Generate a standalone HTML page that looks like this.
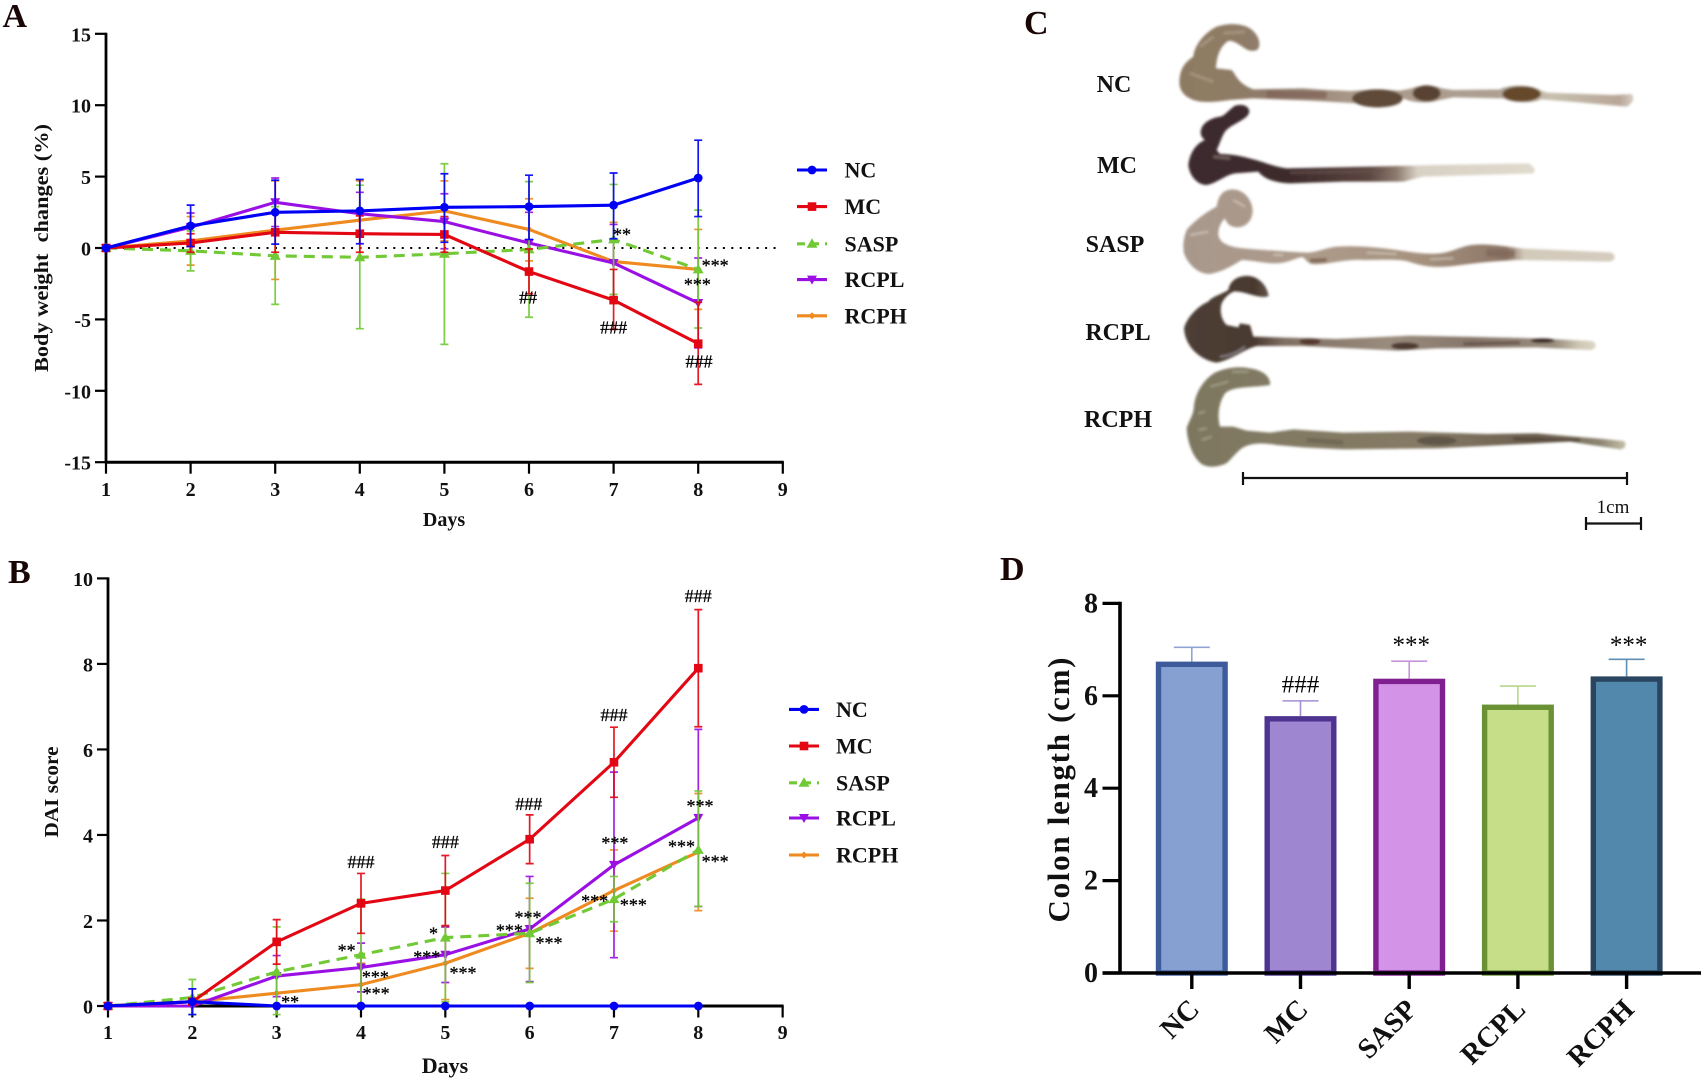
<!DOCTYPE html>
<html lang="en">
<head>
<meta charset="utf-8">
<title>Body weight, DAI score and colon length</title>
<style>
html,body{margin:0;padding:0;background:#fff;}
svg{display:block;font-family:"Liberation Serif",serif;}
#panelA,#panelB,#panelD{filter:blur(.3px);}
</style>
</head>
<body>
<svg id="figure" xmlns="http://www.w3.org/2000/svg" width="1705" height="1080" viewBox="0 0 1705 1080">
  <defs>
    <filter id="soft" x="-5%" y="-20%" width="110%" height="140%"><feGaussianBlur stdDeviation="4.2"/></filter>
    <linearGradient id="gNC" gradientUnits="userSpaceOnUse" x1="28" y1="0" x2="1390" y2="0">
      <stop offset="0" stop-color="#8d7a62"/><stop offset=".13" stop-color="#8f7c66"/><stop offset=".2" stop-color="#8f7a6c"/><stop offset=".38" stop-color="#a89888"/><stop offset=".7" stop-color="#ad9f92"/><stop offset=".82" stop-color="#c8bfae"/><stop offset=".97" stop-color="#b8a698"/><stop offset="1" stop-color="#d8cfc6"/>
    </linearGradient>
    <linearGradient id="gMC" gradientUnits="userSpaceOnUse" x1="55" y1="0" x2="1095" y2="0">
      <stop offset="0" stop-color="#3c2c2e"/><stop offset=".3" stop-color="#3e2a2c"/><stop offset=".52" stop-color="#5b4640"/><stop offset=".6" stop-color="#8c7a6e"/><stop offset=".66" stop-color="#d8d0c4"/><stop offset="1" stop-color="#e0dacd"/>
    </linearGradient>
    <linearGradient id="gSASP" gradientUnits="userSpaceOnUse" x1="40" y1="0" x2="1335" y2="0">
      <stop offset="0" stop-color="#a8988c"/><stop offset=".3" stop-color="#ad9b8a"/><stop offset=".55" stop-color="#a5917e"/><stop offset=".75" stop-color="#8c7566"/><stop offset=".79" stop-color="#d2c9b9"/><stop offset="1" stop-color="#d5ccbf"/>
    </linearGradient>
    <linearGradient id="gRCPL" gradientUnits="userSpaceOnUse" x1="45" y1="0" x2="1278" y2="0">
      <stop offset="0" stop-color="#4d3f36"/><stop offset=".17" stop-color="#49392f"/><stop offset=".24" stop-color="#7f6e62"/><stop offset=".5" stop-color="#9a8c7d"/><stop offset=".7" stop-color="#85756a"/><stop offset=".9" stop-color="#9a8e7e"/><stop offset=".96" stop-color="#d0c8b5"/><stop offset="1" stop-color="#dcd6c5"/>
    </linearGradient>
    <linearGradient id="gRCPH" gradientUnits="userSpaceOnUse" x1="50" y1="0" x2="1368" y2="0">
      <stop offset="0" stop-color="#7e775f"/><stop offset=".2" stop-color="#827a64"/><stop offset=".55" stop-color="#857a65"/><stop offset=".8" stop-color="#6a5d4d"/><stop offset=".94" stop-color="#8c8470"/><stop offset="1" stop-color="#c6bfa8"/>
    </linearGradient>
  </defs>

  <text x="2.5" y="27" font-size="34" font-weight="bold" fill="#1a0505">A</text>
  <text x="8" y="583" font-size="34" font-weight="bold" fill="#1a0505">B</text>
  <text x="1024" y="34" font-size="34" font-weight="bold" fill="#1a0505">C</text>
  <text x="1000" y="580" font-size="34" font-weight="bold" fill="#1a0505">D</text>

  <g id="panelA"></g>
  <g id="panelB"></g>
  <g id="panelD"></g>

  <g>
    <g transform="translate(1170,10) scale(.33333)">
      <g filter="url(#soft)">
        <path fill="url(#gNC)" d="M268 100 C268 118 262 124 240 122 C222 118 205 96 178 92 C158 100 140 130 138 175 L185 180 C198 195 205 222 250 238 L400 235 L470 240 L540 243 L620 238 L690 242 L725 235 C745 225 795 225 815 235 L850 240 L990 238 C1010 225 1080 222 1110 240 L1130 248 L1330 255 L1385 252 C1394 262 1392 278 1370 290 L1200 275 L1115 268 C1090 280 1030 280 1000 265 L850 262 L810 270 C780 280 730 280 700 265 L690 280 C660 296 590 296 560 280 L420 272 L250 265 L180 270 C140 276 100 280 70 270 C40 258 28 240 28 215 C30 180 40 160 70 140 C72 110 100 70 140 50 C175 38 215 40 240 55 C258 68 268 85 268 100 Z"/>
        <ellipse cx="622" cy="265" rx="76" ry="27" fill="#5e4a38"/>
        <ellipse cx="770" cy="250" rx="42" ry="24" fill="#5a4330"/>
        <ellipse cx="1055" cy="252" rx="58" ry="23" fill="#654a2c"/>
        <path d="M290 252 L470 255" stroke="#7d6156" stroke-width="22" fill="none" stroke-opacity=".7"/>
        <path d="M60 190 L130 215 M90 110 L130 80 M160 70 L225 65" stroke="#b5a48e" stroke-width="9" fill="none" stroke-opacity=".6"/>
      </g>
      <g filter="url(#soft)">
        <path fill="url(#gMC)" d="M238 305 C238 288 218 280 195 287 C175 300 165 318 150 320 C120 325 95 340 92 365 C92 380 98 385 105 390 C80 400 60 425 55 465 C58 495 80 525 110 525 C140 520 165 495 195 490 L265 485 C280 505 310 518 360 520 L520 515 L700 515 L760 500 L1090 490 C1100 480 1090 468 1075 460 L800 465 L600 470 L350 475 C310 470 280 455 250 448 C220 440 190 432 150 432 L140 420 C150 400 155 380 165 365 C185 340 235 330 238 305 Z"/>
        <path d="M130 440 L180 445" stroke="#8a7a70" stroke-width="8" fill="none" stroke-opacity=".7"/>
        <path d="M360 488 L640 484" stroke="#6a564e" stroke-width="7" fill="none" stroke-opacity=".7"/>
      </g>
    </g>
    <g transform="translate(1170,240) scale(.33333)">
      <g filter="url(#soft)">
        <path fill="url(#gSASP)" d="M248 -90 C245 -125 220 -150 190 -152 C160 -152 145 -135 140 -100 C110 -85 70 -55 50 -30 C40 -5 38 20 42 40 C55 75 85 102 120 102 C160 95 190 75 215 60 C260 62 300 75 340 68 C370 62 385 50 400 52 C410 62 415 74 440 73 C480 72 520 58 580 60 C640 60 690 56 720 66 C760 80 800 84 850 78 C900 72 930 66 1040 60 L1320 65 C1340 58 1338 42 1320 37 L1050 25 C1000 18 950 10 905 15 C870 20 850 35 810 40 C770 44 720 36 680 30 C620 22 560 16 500 20 C470 22 440 38 410 38 C370 36 280 30 220 25 C175 20 150 10 145 -15 C145 -35 150 -50 165 -65 C170 -50 180 -38 205 -38 C230 -40 248 -60 248 -90 Z"/>
        <path d="M310 45 L340 45 M590 38 L680 42 M780 58 L850 55 M60 -15 L115 -25 M190 -120 L225 -100" stroke="#e6e0d6" stroke-width="5" fill="none" stroke-opacity=".6"/>
        <path d="M420 62 L470 60" stroke="#7a5c4a" stroke-width="12" fill="none" stroke-opacity=".8"/>
        <path d="M950 38 L1035 42" stroke="#7e6558" stroke-width="22" fill="none" stroke-opacity=".7"/>
      </g>
      <g filter="url(#soft)">
        <path fill="url(#gRCPL)" d="M296 168 C292 140 270 112 238 108 C205 106 180 120 175 150 C150 165 125 170 115 185 C80 200 50 235 42 265 C45 320 90 360 140 368 C190 358 225 325 262 318 L400 318 L680 332 L800 325 L1100 322 L1260 330 C1282 328 1282 308 1265 303 L1100 295 L720 287 L500 297 L250 290 L240 255 L210 250 L205 262 L170 255 C150 235 150 205 155 190 C165 170 180 160 190 155 C220 150 270 180 296 168 Z"/>
        <ellipse cx="420" cy="305" rx="32" ry="10" fill="#55392f"/>
        <ellipse cx="705" cy="318" rx="42" ry="11" fill="#4e3a33"/>
        <path d="M880 312 L1050 308" stroke="#5f4a44" stroke-width="9" fill="none" stroke-opacity=".8"/>
        <ellipse cx="1118" cy="302" rx="36" ry="7" fill="#3e2a25"/>
        <path d="M150 350 C180 348 205 335 225 320" stroke="#a8a8b0" stroke-width="5" fill="none" stroke-opacity=".7"/>
      </g>
      <g filter="url(#soft)">
        <path fill="url(#gRCPH)" d="M300 425 C295 405 275 390 240 385 C205 378 170 382 135 398 C100 420 78 455 72 495 C72 525 55 545 50 565 C52 610 72 660 100 675 C125 686 155 678 172 668 C190 650 205 630 220 622 C245 608 280 608 320 615 L400 622 L520 628 L800 625 L1000 615 L1200 605 L1350 628 C1370 628 1370 605 1360 603 L1300 597 L1100 580 L950 582 L720 575 L520 578 L370 568 L300 578 L230 572 L190 560 L150 560 C142 530 145 490 165 460 C190 438 240 444 300 435 Z"/>
        <path d="M120 440 L175 425 M185 395 L235 395 M85 520 L105 515 M85 570 L110 565 M95 600 L125 590" stroke="#b8b5a2" stroke-width="6" fill="none" stroke-opacity=".6"/>
        <ellipse cx="800" cy="602" rx="60" ry="14" fill="#605648"/>
        <path d="M1030 597 L1230 600" stroke="#4f4036" stroke-width="9" fill="none" stroke-opacity=".8"/>
        <path d="M410 600 L520 608" stroke="#6a604e" stroke-width="14" fill="none" stroke-opacity=".7"/>
      </g>
    </g>
    <text x="1114" y="92" text-anchor="middle" font-size="24" font-weight="bold" fill="#111">NC</text>
    <text x="1117" y="173" text-anchor="middle" font-size="24" font-weight="bold" fill="#111">MC</text>
    <text x="1115" y="252" text-anchor="middle" font-size="24" font-weight="bold" fill="#111">SASP</text>
    <text x="1118" y="340" text-anchor="middle" font-size="24" font-weight="bold" fill="#111">RCPL</text>
    <text x="1118" y="427" text-anchor="middle" font-size="24" font-weight="bold" fill="#111">RCPH</text>
    <path d="M1243 478H1627M1243 472V485M1627 472V485" stroke="#111" stroke-width="2.2" fill="none"/>
    <path d="M1586 523.5H1641M1586 517V530M1641 517V530" stroke="#111" stroke-width="2.2" fill="none"/>
    <text x="1613" y="513" text-anchor="middle" font-size="19" fill="#111">1cm</text>
  </g>
</svg>

<script>
// Shared categories and legend
const dayValues = [1, 2, 3, 4, 5, 6, 7, 8];
const dayTicks = [1, 2, 3, 4, 5, 6, 7, 8, 9];
const groupNames = ['NC', 'MC', 'SASP', 'RCPL', 'RCPH'];

// Panel A: body weight changes (%)
const weightTicks = [15, 10, 5, 0, -5, -10, -15];
const weightNC = [0, 1.55, 2.5, 2.6, 2.85, 2.9, 3.0, 4.9];
const weightNCHigh = [0, 3.0, 4.75, 4.8, 5.2, 5.1, 5.25, 7.55];
const weightNCLow = [0, 0.1, 0.27, 0.3, 0.4, 0.6, 0.65, 2.2];
const weightMC = [0, 0.35, 1.1, 1.0, 0.95, -1.65, -3.65, -6.7];
const weightMCHigh = [0, 1.0, 2.5, 2.25, 2.2, -0.07, -1.5, -3.8];
const weightMCLow = [0, -0.3, -0.3, -0.3, -0.3, -3.2, -5.7, -9.55];
const weightSASP = [0, -0.2, -0.55, -0.65, -0.4, -0.1, 0.6, -1.5];
const weightSASPHigh = [0, 1.2, 2.9, 4.4, 5.9, 4.65, 4.45, 2.65];
const weightSASPLow = [0, -1.6, -3.95, -5.65, -6.75, -4.85, -3.25, -5.6];
const weightRCPL = [0, 1.45, 3.2, 2.4, 1.85, 0.35, -1.05, -3.85];
const weightRCPLHigh = [0, 2.45, 4.9, 3.9, 3.8, 2.5, 1.65, -0.7];
const weightRCPLLow = [0, 0.45, 1.5, 0.9, -0.05, -1.8, -3.7, -7.0];
const weightRCPH = [0, 0.5, 1.25, 1.95, 2.6, 1.3, -0.95, -1.5];
const weightRCPHHigh = [0, 2.2, 4.7, 4.7, 4.7, 3.45, 1.8, 1.3];
const weightRCPHLow = [0, -1.2, -2.2, -0.8, 0.5, -0.9, -3.6, -4.3];
const weightNoteLabels = ['**', '***', '***', '##', '###', '###'];
const weightNoteDays = [7.10, 8.20, 7.99, 5.99, 7.0, 8.01];
const weightNoteValues = [1.14, -1.0, -2.36, -3.48, -5.55, -7.96];

// Panel B: DAI score
const daiTicks = [10, 8, 6, 4, 2, 0];
const daiNC = [0, 0.1, 0, 0, 0, 0, 0, 0];
const daiNCHigh = [0, 0.4, 0, 0, 0, 0, 0, 0];
const daiNCLow = [0, -0.2, 0, 0, 0, 0, 0, 0];
const daiMC = [0, 0.1, 1.5, 2.4, 2.7, 3.9, 5.7, 7.9];
const daiMCHigh = [0, 0.1, 2.02, 3.1, 3.52, 4.47, 6.52, 9.27];
const daiMCLow = [0, 0.1, 0.98, 1.7, 1.88, 3.33, 4.88, 6.53];
const daiSASP = [0, 0.2, 0.8, 1.2, 1.6, 1.7, 2.5, 3.65];
const daiSASPHigh = [0, 0.62, 1.85, 2.5, 3.1, 2.87, 3.03, 5.03];
const daiSASPLow = [0, -0.2, -0.2, 0, 0.1, 0.55, 1.97, 2.33];
const daiRCPL = [0, 0, 0.7, 0.9, 1.2, 1.8, 3.3, 4.4];
const daiRCPLHigh = [0, 0, 1.18, 1.47, 1.85, 3.03, 5.47, 6.47];
const daiRCPLLow = [0, 0, 0.22, 0.33, 0.55, 0.57, 1.13, 2.33];
const daiRCPH = [0, 0.1, 0.3, 0.5, 1.0, 1.7, 2.7, 3.6];
const daiRCPHHigh = [0, 0.1, 0.3, 1.0, 1.85, 2.52, 3.65, 4.97];
const daiRCPHLow = [0, 0.1, 0.3, 0, 0.15, 0.88, 1.75, 2.23];
const daiNoteLabels = ['###', '###', '###', '###', '###', '**', '**', '***', '***', '*', '***', '***', '***', '***', '***', '***', '***', '***', '***', '***', '***'];
const daiNoteDays = [4.0, 5.0, 5.99, 7.0, 8.0, 3.16, 3.83, 4.17, 4.18, 4.86, 4.78, 5.21, 5.98, 5.76, 6.23, 7.01, 6.77, 7.23, 8.02, 7.80, 8.20];
const daiNoteValues = [3.37, 3.84, 4.72, 6.81, 9.59, 0.16, 1.37, 0.75, 0.36, 1.76, 1.22, 0.84, 2.14, 1.83, 1.54, 3.88, 2.52, 2.43, 4.75, 3.80, 3.45];

// Panel D: colon length (cm)
const lengthTicks = [8, 6, 4, 2, 0];
const lengthMeans = [6.74, 5.56, 6.37, 5.81, 6.42];
const lengthErrorTops = [7.05, 5.89, 6.75, 6.21, 6.79];
const lengthNoteLabels = ['###', '***', '***'];
const lengthNoteGroups = [1, 2, 4];
const lengthNoteValues = [6.25, 7.19, 7.19];

const SVGNS = 'http://www.w3.org/2000/svg';

function mk(parent, tag, name, attrs, txt) {
  const el = document.createElementNS(SVGNS, tag);
  
  
  for (const k in attrs) el.setAttribute(k, attrs[k]);
  if (txt !== undefined) el.textContent = txt;
  parent.appendChild(el);
  return el;
}

const seriesStyle = {
  NC: {color: '#0000f5', marker: 'circle', dash: ''},
  MC: {color: '#e30613', marker: 'square', dash: ''},
  SASP: {color: '#72c936', marker: 'up', dash: '11 7'},
  RCPL: {color: '#9a10e4', marker: 'down', dash: ''},
  RCPH: {color: '#ee8a1f', marker: 'diamond', dash: ''}
};

function marker(parent, kind, x, y, color, name) {
  if (kind === 'circle') return mk(parent, 'circle', name, {cx: x, cy: y, r: 4.4, fill: color});
  if (kind === 'square') return mk(parent, 'rect', name, {x: x - 4.3, y: y - 4.3, width: 8.6, height: 8.6, fill: color});
  if (kind === 'up') return mk(parent, 'path', name, {d: `M${x} ${y - 5.5}L${x + 5.5} ${y + 4}L${x - 5.5} ${y + 4}Z`, fill: color});
  if (kind === 'down') return mk(parent, 'path', name, {d: `M${x} ${y + 5}L${x + 5} ${y - 4}L${x - 5} ${y - 4}Z`, fill: color});
  return mk(parent, 'path', name, {d: `M${x} ${y - 3.5}L${x + 3.5} ${y}L${x} ${y + 3.5}L${x - 3.5} ${y}Z`, fill: color});
}

function lineChart(cfg) {
  const g = document.getElementById(cfg.id);
  const xS = d => cfg.x0 + (d - 1) * cfg.dx;
  const yS = v => cfg.y0 - v * cfg.dy;
  const bottom = yS(cfg.yMin), top = yS(cfg.yMax);

  mk(g, 'line', 'y-axis', {x1: xS(1), x2: xS(1), y1: top - 1, y2: bottom + 1, stroke: '#000', 'stroke-width': 2.8});
  mk(g, 'line', 'x-axis', {x1: xS(1) - 1, x2: xS(9) + 1, y1: bottom, y2: bottom, stroke: '#000', 'stroke-width': 3});
  cfg.yTicks.forEach(t => {
    mk(g, 'line', 'y-tick', {x1: xS(1) - 11, x2: xS(1), y1: yS(t), y2: yS(t), stroke: '#000', 'stroke-width': 2.2});
    mk(g, 'text', 'y-tick-label', {x: xS(1) - 15, y: yS(t) + 7.5, 'text-anchor': 'end', 'font-size': 20, 'font-weight': 'bold', fill: '#111'}, String(t));
  });
  dayTicks.forEach(t => {
    mk(g, 'line', 'x-tick', {x1: xS(t), x2: xS(t), y1: bottom, y2: bottom + 11.5, stroke: '#000', 'stroke-width': 2.2});
    mk(g, 'text', 'x-tick-label', {x: xS(t), y: bottom + cfg.tickGap, 'text-anchor': 'middle', 'font-size': 20, 'font-weight': 'bold', fill: '#111'}, String(t));
  });
  mk(g, 'text', 'x-axis-title', {x: cfg.xTitleX, y: cfg.xTitleY, 'text-anchor': 'middle', 'font-size': cfg.xTitleSize, 'font-weight': 'bold', fill: '#111'}, 'Days');
  mk(g, 'text', 'y-axis-title', {
    transform: `translate(${cfg.yTitleX},${cfg.yTitleY}) rotate(-90)`, 'text-anchor': 'middle',
    'font-size': 20, 'font-weight': 'bold', fill: '#111', textLength: cfg.yTitleLen, lengthAdjust: 'spacingAndGlyphs'
  }, cfg.yTitle);

  if (cfg.zeroLine) {
    mk(g, 'line', 'zero-reference-line', {x1: xS(1), x2: cfg.zeroEnd, y1: yS(0), y2: yS(0), stroke: '#000', 'stroke-width': 2, 'stroke-dasharray': '2 6.45'});
  }

  cfg.order.forEach(name => {
    const s = cfg.series[name], st = seriesStyle[name];
    const lname = name.toLowerCase();
    const sg = mk(g, 'g', 'series-' + lname, {});
    dayValues.forEach((d, i) => {
      if (s.high[i] === s.low[i]) return;
      const x = xS(d);
      mk(sg, 'path', 'error-bar-' + lname, {
        d: `M${x} ${yS(s.high[i])}V${yS(s.low[i])}M${x - 4} ${yS(s.high[i])}H${x + 4}M${x - 4} ${yS(s.low[i])}H${x + 4}`,
        stroke: st.color, 'stroke-width': 1.7, fill: 'none', opacity: .92
      });
    });
    const pts = dayValues.map((d, i) => xS(d) + ',' + yS(s.mean[i])).join(' ');
    const attrs = {points: pts, fill: 'none', stroke: st.color, 'stroke-width': 3.1, 'stroke-linejoin': 'round'};
    if (st.dash) attrs['stroke-dasharray'] = st.dash;
    mk(sg, 'polyline', 'line-' + lname, attrs);
    dayValues.forEach((d, i) => {
      marker(sg, st.marker, xS(d), yS(s.mean[i]), st.color, 'point-' + lname);
    });
  });

  cfg.noteLabels.forEach((lab, i) => {
    const off = lab[0] === '#' ? 6 : 9;
    mk(g, 'text', 'significance-mark', {
      x: xS(cfg.noteDays[i]), y: yS(cfg.noteValues[i]) + off, 'text-anchor': 'middle',
      'font-size': 18, fill: '#000', stroke: '#000', 'stroke-width': .3
    }, lab);
  });

  groupNames.forEach((name, i) => {
    const st = seriesStyle[name], y = cfg.legendY[i], x0 = cfg.legendX, x1 = x0 + 30;
    const lg = mk(g, 'g', 'legend-entry-' + name.toLowerCase(), {});
    const attrs = {x1: x0, x2: x1, y1: y, y2: y, stroke: st.color, 'stroke-width': 3.1};
    if (st.dash) attrs['stroke-dasharray'] = '8 6';
    mk(lg, 'line', 'legend-line', attrs);
    marker(lg, st.marker, (x0 + x1) / 2, y, st.color, 'legend-marker');
    mk(lg, 'text', 'legend-label', {x: cfg.legendTextX, y: y + 7.5, 'font-size': 22, 'font-weight': 'bold', fill: '#111'}, name);
  });
}

lineChart({
  id: 'panelA', x0: 106, dx: 84.6, y0: 248, dy: 14.28, yMin: -15, yMax: 15, yTicks: weightTicks,
  tickGap: 34, xTitleX: 444, xTitleY: 526, xTitleSize: 20,
  yTitle: 'Body weight\u00a0\u00a0changes (%)', yTitleX: 48, yTitleY: 248, yTitleLen: 248,
  zeroLine: true, zeroEnd: 780,
  order: ['RCPH', 'RCPL', 'SASP', 'MC', 'NC'],
  series: {
    NC: {mean: weightNC, high: weightNCHigh, low: weightNCLow},
    MC: {mean: weightMC, high: weightMCHigh, low: weightMCLow},
    SASP: {mean: weightSASP, high: weightSASPHigh, low: weightSASPLow},
    RCPL: {mean: weightRCPL, high: weightRCPLHigh, low: weightRCPLLow},
    RCPH: {mean: weightRCPH, high: weightRCPHHigh, low: weightRCPHLow}
  },
  noteLabels: weightNoteLabels, noteDays: weightNoteDays, noteValues: weightNoteValues,
  legendX: 797, legendTextX: 844.5, legendY: [170, 206.6, 243.8, 279.6, 315.8]
});

lineChart({
  id: 'panelB', x0: 108, dx: 84.33, y0: 1006, dy: 42.76, yMin: 0, yMax: 10, yTicks: daiTicks,
  tickGap: 33, xTitleX: 445, xTitleY: 1073, xTitleSize: 22,
  yTitle: 'DAI score', yTitleX: 58, yTitleY: 792, yTitleLen: 91,
  zeroLine: false,
  order: ['RCPH', 'RCPL', 'SASP', 'MC', 'NC'],
  series: {
    NC: {mean: daiNC, high: daiNCHigh, low: daiNCLow},
    MC: {mean: daiMC, high: daiMCHigh, low: daiMCLow},
    SASP: {mean: daiSASP, high: daiSASPHigh, low: daiSASPLow},
    RCPL: {mean: daiRCPL, high: daiRCPLHigh, low: daiRCPLLow},
    RCPH: {mean: daiRCPH, high: daiRCPHHigh, low: daiRCPHLow}
  },
  noteLabels: daiNoteLabels, noteDays: daiNoteDays, noteValues: daiNoteValues,
  legendX: 789, legendTextX: 836, legendY: [709.4, 746, 782.8, 818, 855]
});

// Panel D
(function () {
  const g = document.getElementById('panelD');
  const axisX = 1120, y0 = 973, dy = 46.2, firstCenter = 1191.8, step = 108.7, barW = 72;
  const xS = i => firstCenter + i * step;
  const yS = v => y0 - v * dy;
  const fills = ['#86a0d2', '#9e87d0', '#d394e8', '#c6de88', '#5388ad'];
  const edges = ['#3d5a9a', '#4e3390', '#7f1f90', '#6a9235', '#2a4560'];
  const errs = ['#8ea6d4', '#a48fd3', '#c994dd', '#b8d68a', '#5f8fb0'];

  groupNames.forEach((name, i) => {
    const lname = name.toLowerCase(), cx = xS(i);
    mk(g, 'path', 'error-bar-' + lname, {
      d: `M${cx} ${yS(lengthMeans[i])}V${yS(lengthErrorTops[i])}M${cx - 18} ${yS(lengthErrorTops[i])}H${cx + 18}`,
      stroke: errs[i], 'stroke-width': 1.6, fill: 'none'
    });
    mk(g, 'rect', 'bar-' + lname, {
      x: cx - barW / 2 + 2.7, y: yS(lengthMeans[i]) + 2.7, width: barW - 5.4, height: y0 - yS(lengthMeans[i]) - 2.7,
      fill: fills[i], stroke: edges[i], 'stroke-width': 5.4
    });
    mk(g, 'line', 'x-tick', {x1: cx, x2: cx, y1: y0, y2: y0 + 16, stroke: '#000', 'stroke-width': 3.4});
    mk(g, 'text', 'x-tick-label', {
      transform: `translate(${cx + 9},${y0 + 38}) rotate(-45)`, 'text-anchor': 'end',
      'font-size': 28.5, 'font-weight': 'bold', fill: '#111'
    }, name);
  });

  mk(g, 'line', 'y-axis', {x1: axisX, x2: axisX, y1: yS(8) - 1.7, y2: y0, stroke: '#000', 'stroke-width': 3.6});
  mk(g, 'line', 'x-axis', {x1: 1102.5, x2: 1701, y1: y0, y2: y0, stroke: '#000', 'stroke-width': 3.6});
  lengthTicks.forEach(t => {
    mk(g, 'line', 'y-tick', {x1: 1102.5, x2: axisX, y1: yS(t), y2: yS(t), stroke: '#000', 'stroke-width': 3.2});
    mk(g, 'text', 'y-tick-label', {x: 1098, y: yS(t) + 9, 'text-anchor': 'end', 'font-size': 28, 'font-weight': 'bold', fill: '#111'}, String(t));
  });
  mk(g, 'text', 'y-axis-title', {
    transform: 'translate(1069,790) rotate(-90)', 'text-anchor': 'middle',
    'font-size': 31, 'font-weight': 'bold', fill: '#111', textLength: 265, lengthAdjust: 'spacing'
  }, 'Colon length (cm)');
  lengthNoteLabels.forEach((lab, i) => {
    mk(g, 'text', 'significance-mark', {
      x: xS(lengthNoteGroups[i]) + (lab[0] === '#' ? 0 : 2), y: yS(lengthNoteValues[i]) + (lab[0] === '#' ? 8 : 12),
      'text-anchor': 'middle', 'font-size': 25, fill: '#000'
    }, lab);
  });
})();
</script>
</body>
</html>
